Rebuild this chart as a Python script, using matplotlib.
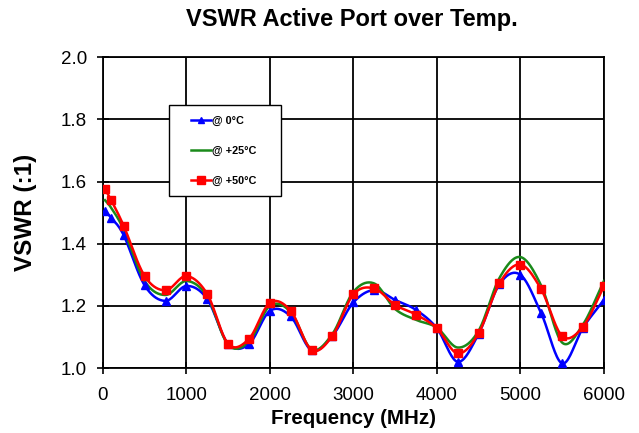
import numpy as np
import matplotlib
matplotlib.use("Agg")
import matplotlib.pyplot as plt
from matplotlib.lines import Line2D
from matplotlib.patches import Rectangle

plt.rcParams["font.family"] = ["Liberation Sans", "DejaVu Sans"]

freq = [25, 100, 250, 500, 750, 1000, 1250, 1500, 1750, 2000, 2250, 2500, 2750,
        3000, 3250, 3500, 3750, 4000, 4250, 4500, 4750, 5000, 5250, 5500, 5750, 6000]
vswr_0c = [1.504, 1.483, 1.427, 1.266, 1.216, 1.264, 1.222, 1.078, 1.077, 1.184, 1.166, 1.057, 1.104,
           1.211, 1.251, 1.219, 1.187, 1.128, 1.020, 1.110, 1.270, 1.300, 1.176, 1.015, 1.130, 1.219]
vswr_25c = [1.540, 1.515, 1.445, 1.280, 1.235, 1.280, 1.230, 1.075, 1.085, 1.200, 1.180, 1.060, 1.110,
            1.245, 1.272, 1.190, 1.155, 1.130, 1.066, 1.120, 1.290, 1.357, 1.265, 1.082, 1.140, 1.280]
vswr_50c = [1.576, 1.540, 1.457, 1.296, 1.250, 1.296, 1.238, 1.078, 1.094, 1.210, 1.184, 1.058, 1.104,
            1.237, 1.256, 1.203, 1.172, 1.128, 1.047, 1.112, 1.273, 1.333, 1.253, 1.103, 1.133, 1.263]
labels = ["@ 0°C", "@ +25°C", "@ +50°C"]
x_ticks = [0, 1000, 2000, 3000, 4000, 5000, 6000]
y_ticks = [1.0, 1.2, 1.4, 1.6, 1.8, 2.0]


def smooth(x, y, n=20):
    # Catmull-Rom spline through the data points (Excel-like smoothed line)
    x = np.asarray(x, float)
    y = np.asarray(y, float)
    px = np.concatenate([[2 * x[0] - x[1]], x, [2 * x[-1] - x[-2]]])
    py = np.concatenate([[2 * y[0] - y[1]], y, [2 * y[-1] - y[-2]]])
    xs, ys = [], []
    t = np.linspace(0, 1, n, endpoint=False)
    for i in range(1, len(px) - 2):
        for arr, out in ((px, xs), (py, ys)):
            p0, p1, p2, p3 = arr[i - 1], arr[i], arr[i + 1], arr[i + 2]
            out.extend(0.5 * ((2 * p1) + (-p0 + p2) * t +
                              (2 * p0 - 5 * p1 + 4 * p2 - p3) * t ** 2 +
                              (-p0 + 3 * p1 - 3 * p2 + p3) * t ** 3))
    xs.append(x[-1]); ys.append(y[-1])
    return np.array(xs), np.array(ys)


BLUE, GREEN, RED = "#0000ff", "#1a8a1a", "#ff0000"

fig = plt.figure(figsize=(6.39, 4.33), dpi=100)
ax = fig.add_axes([0.161, 0.150, 0.784, 0.718])

sx, sy = smooth(freq, vswr_0c)
ax.plot(sx, sy, color=BLUE, lw=1.8, zorder=3)
ax.plot(freq, vswr_0c, ls="none", marker="^", ms=5.5, color=BLUE, zorder=4)

sx, sy = smooth(freq, vswr_25c)
ax.plot(sx, sy, color=GREEN, lw=1.8, zorder=3)

sx, sy = smooth(freq, vswr_50c)
ax.plot(sx, sy, color=RED, lw=1.8, zorder=5)
ax.plot(freq, vswr_50c, ls="none", marker="s", ms=6, color=RED, zorder=6)

# legend box
ax.add_patch(Rectangle((0.132, 0.553), 0.223, 0.293, transform=ax.transAxes,
                       facecolor="white", edgecolor="black", lw=1.0, zorder=9))
handles = [
    Line2D([], [], color=BLUE, lw=1.8, marker="^", ms=5),
    Line2D([], [], color=GREEN, lw=1.8),
    Line2D([], [], color=RED, lw=1.8, marker="s", ms=5.5),
]
leg = ax.legend(handles, labels, loc="upper left", bbox_to_anchor=(0.175, 0.812),
                borderaxespad=0, borderpad=0, frameon=False, labelspacing=1.85,
                handlelength=1.9, handletextpad=0.1,
                prop={"weight": "bold", "size": 7.8})
leg.set_zorder(10)

ax.set_xlim(0, 6000)
ax.set_ylim(1.0, 2.0)
ax.set_xticks(x_ticks)
ax.set_yticks(y_ticks)
ax.set_yticklabels([f"{v:.1f}" for v in y_ticks])
ax.grid(True, color="black", lw=1.3)
ax.set_axisbelow(True)
for s in ax.spines.values():
    s.set_color("black")
    s.set_linewidth(1.3)
ax.tick_params(direction="inout", length=9, width=1.2, labelsize=13.5, colors="black")
ax.tick_params(axis="y", pad=7)
ax.tick_params(axis="x", pad=9.5)

ax.set_xlabel("Frequency (MHz)", fontsize=14.8, fontweight="bold", labelpad=3)
ax.set_ylabel("VSWR (:1)", fontsize=17.5, fontweight="bold", labelpad=17)
fig.text(0.551, 0.955, "VSWR Active Port over Temp.", ha="center", va="center",
         fontsize=17, fontweight="bold")

fig.savefig("out.png", dpi=100)
